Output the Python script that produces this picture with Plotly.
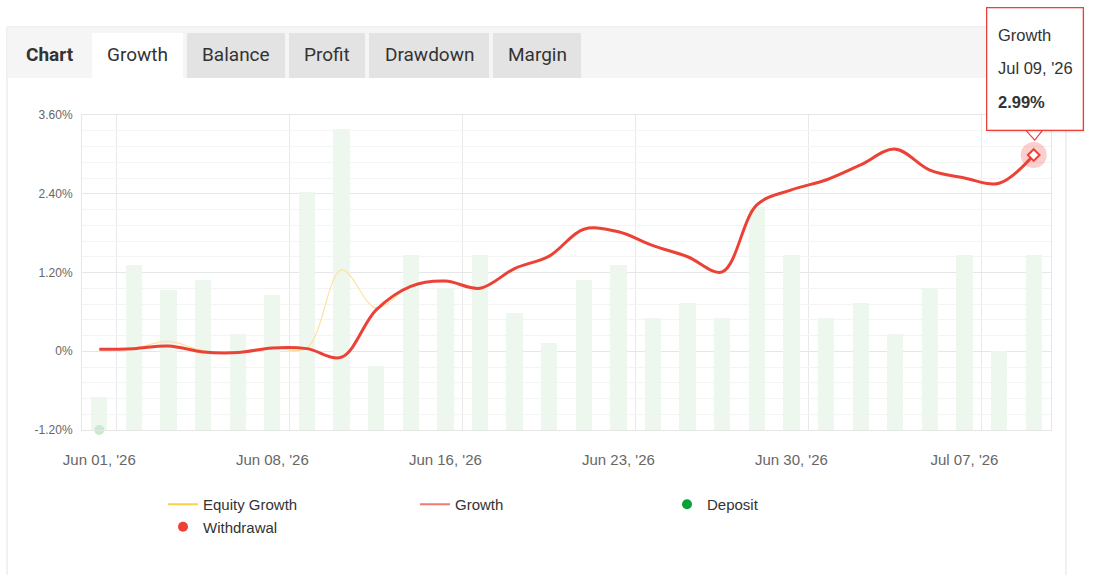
import plotly.graph_objects as go

# ---------------- data ----------------
dates = ["Jun 01, '26", "Jun 02, '26", "Jun 03, '26", "Jun 04, '26", "Jun 05, '26",
         "Jun 08, '26", "Jun 09, '26", "Jun 10, '26", "Jun 11, '26", "Jun 12, '26",
         "Jun 16, '26", "Jun 17, '26", "Jun 18, '26", "Jun 19, '26", "Jun 22, '26",
         "Jun 23, '26", "Jun 24, '26", "Jun 25, '26", "Jun 26, '26", "Jun 29, '26",
         "Jun 30, '26", "Jul 01, '26", "Jul 02, '26", "Jul 03, '26", "Jul 06, '26",
         "Jul 07, '26", "Jul 08, '26", "Jul 09, '26"]

growth = [0.03, 0.04, 0.08, -0.01, -0.02, 0.05, 0.04, -0.09, 0.63, 0.99,
          1.07, 0.96, 1.26, 1.45, 1.86, 1.82, 1.61, 1.44, 1.21, 2.23,
          2.46, 2.61, 2.84, 3.08, 2.76, 2.64, 2.56, 2.99]

equity_growth = [0.03, 0.05, 0.15, 0.01, -0.01, 0.05, 0.05, 1.24, 0.66, 0.99,
                 1.07, 0.96, 1.27, 1.46, 1.87, 1.83, 1.61, 1.44, 1.21, 2.23,
                 2.46, 2.61, 2.85, 3.10, 2.76, 2.64, 2.56, 2.99]

# faded daily bars (height above the chart floor, in axis units)
daily_bars = [0.51, 2.52, 2.13, 2.28, 1.46, 2.05, 3.62, 4.58, 0.98, 2.66,
              2.17, 2.66, 1.79, 1.32, 2.28, 2.52, 1.70, 1.94, 1.70, 3.40,
              2.66, 1.70, 1.94, 1.46, 2.17, 2.66, 1.21, 2.66]

deposit_idx = [0]
y_ticks = [-1.2, 0, 1.2, 2.4, 3.6]
y_tick_text = ["-1.20%", "0%", "1.20%", "2.40%", "3.60%"]
x_tick_idx = [0, 5, 10, 15, 20, 25]
tabs = ["Growth", "Balance", "Profit", "Drawdown", "Margin"]

Y_MIN, Y_MAX = -1.2, 3.6

# ---------------- layout geometry ----------------
W_PX, H_PX = 1098, 575
L, R, T, B = 82, 47, 115, 145
PW, PH = W_PX - L - R, H_PX - T - B


def px(x):
    return (x - L) / PW


def py(y):
    return 1 - (y - T) / PH


xs = list(range(len(dates)))
RED = "#ec4136"
GREEN_FADE = "#edf7ee"
FONT = "Liberation Sans, Arial, sans-serif"

fig = go.Figure()

fig.add_trace(go.Bar(x=xs, y=daily_bars, base=Y_MIN, width=0.47,
                     marker=dict(color=GREEN_FADE, line=dict(width=0)),
                     showlegend=False, hoverinfo="skip"))

fig.add_trace(go.Scatter(x=xs, y=equity_growth, mode="lines",
                         line=dict(color="#fbe3a0", width=1.2, shape="spline", smoothing=1.0),
                         showlegend=False, hoverinfo="skip"))

fig.add_trace(go.Scatter(x=xs, y=growth, mode="lines",
                         line=dict(color=RED, width=3, shape="spline", smoothing=1.0),
                         showlegend=False, hoverinfo="skip"))

fig.add_trace(go.Scatter(x=deposit_idx, y=[Y_MIN] * len(deposit_idx), mode="markers",
                         marker=dict(color="#c6ebcf", size=10),
                         cliponaxis=False, showlegend=False, hoverinfo="skip"))

# hovered point highlight
fig.add_trace(go.Scatter(x=[xs[-1]], y=[growth[-1]], mode="markers",
                         marker=dict(color="rgba(236,65,54,0.25)", size=26),
                         cliponaxis=False, showlegend=False, hoverinfo="skip"))
fig.add_trace(go.Scatter(x=[xs[-1]], y=[growth[-1]], mode="markers",
                         marker=dict(color="white", size=9, symbol="diamond",
                                     line=dict(color=RED, width=2)),
                         cliponaxis=False, showlegend=False, hoverinfo="skip"))

# legend-only entries
fig.add_trace(go.Scatter(x=[None], y=[None], mode="lines", name="Equity Growth",
                         line=dict(color="#f8d24e", width=2)))
fig.add_trace(go.Scatter(x=[None], y=[None], mode="lines", name="Growth",
                         line=dict(color="#f07a72", width=2)))
fig.add_trace(go.Scatter(x=[None], y=[None], mode="markers", name="Deposit",
                         marker=dict(color="#05a23a", size=10)))
fig.add_trace(go.Scatter(x=[None], y=[None], mode="markers", name="Withdrawal",
                         marker=dict(color="#ec4136", size=10)))

shapes = []
# card
shapes.append(dict(type="rect", xref="paper", yref="paper", layer="below",
                   x0=px(7), x1=px(1066), y0=py(600), y1=py(27),
                   fillcolor="white", line=dict(color="#e3e3e3", width=1)))
# header band
shapes.append(dict(type="rect", xref="paper", yref="paper", layer="below",
                   x0=px(7.5), x1=px(1065.5), y0=py(78), y1=py(27.5),
                   fillcolor="#f5f5f5", line=dict(width=0)))
tab_bounds = [(92, 183), (187, 285), (289, 365), (369, 489), (493, 581)]
annotations = []
annotations.append(dict(text="<b>Chart</b>", xref="paper", yref="paper",
                        x=px(50), y=py(54), xanchor="center", yanchor="middle",
                        showarrow=False,
                        font=dict(family="Roboto", size=19, color="#333")))
for i, (name, (a, b)) in enumerate(zip(tabs, tab_bounds)):
    shapes.append(dict(type="rect", xref="paper", yref="paper", layer="below",
                       x0=px(a), x1=px(b), y0=py(78), y1=py(33),
                       fillcolor="white" if i == 0 else "#e3e3e3", line=dict(width=0)))
    annotations.append(dict(text=name, xref="paper", yref="paper",
                            x=px((a + b) / 2), y=py(54), xanchor="center", yanchor="middle",
                            showarrow=False,
                            font=dict(family="Roboto", size=19, color="#333")))

# tooltip pointer
shapes.append(dict(type="path", xref="x", yref="y", layer="above",
                   xsizemode="pixel", ysizemode="pixel",
                   xanchor=xs[-1], yanchor=growth[-1],
                   path="M -8,25 L 1,15 L 9,25",
                   fillcolor="white", line=dict(color=RED, width=1.2)))

# tooltip box (shadow + box)
annotations.append(dict(x=xs[-1], y=growth[-1], xref="x", yref="y", text=" ",
                        showarrow=False, xanchor="center", yanchor="bottom",
                        xshift=3, yshift=22, width=95, height=121, borderpad=0,
                        bgcolor="rgba(0,0,0,0.10)", borderwidth=1,
                        bordercolor="rgba(0,0,0,0)"))
annotations.append(dict(x=xs[-1], y=growth[-1], xref="x", yref="y", text=" ",
                        showarrow=False, xanchor="center", yanchor="bottom",
                        xshift=1, yshift=24, width=95, height=121, borderpad=0,
                        bgcolor="white", borderwidth=1.3, bordercolor=RED))
for txt, dy in [("Growth", 120), (dates[-1], 87), ("<b>%.2f%%</b>" % growth[-1], 53)]:
    annotations.append(dict(x=xs[-1], y=growth[-1], xref="x", yref="y", text=txt,
                            showarrow=False, xanchor="left", yanchor="middle",
                            xshift=-38, yshift=dy,
                            font=dict(family=FONT, size=16.5, color="#333")))

fig.update_layout(
    width=W_PX, height=H_PX,
    margin=dict(l=L, r=R, t=T, b=B, pad=0),
    paper_bgcolor="white", plot_bgcolor="rgba(0,0,0,0)",
    font=dict(family=FONT, color="#666"),
    hovermode=False, bargap=0,
    shapes=shapes, annotations=annotations,
    legend=dict(orientation="h", x=px(163), xanchor="left", y=py(488), yanchor="top",
                entrywidth=207, entrywidthmode="pixels", traceorder="normal",
                font=dict(family=FONT, size=15, color="#333"),
                bgcolor="rgba(0,0,0,0)", borderwidth=0, itemclick=False),
    xaxis=dict(range=[-0.5, len(dates) - 0.5], tickmode="array", tickvals=x_tick_idx,
               ticktext=[dates[i] for i in x_tick_idx], showgrid=False, zeroline=False,
               ticks="", ticklabelstandoff=16, tickfont=dict(size=15, color="#666"),
               showline=True, mirror=True, linecolor="#e6e6e6", linewidth=1,
               minor=dict(tickmode="linear", tick0=0.5, dtick=5, showgrid=True,
                          gridcolor="#e9e9e9", gridwidth=1, ticks="")),
    yaxis=dict(range=[Y_MIN, Y_MAX], tickmode="array", tickvals=y_ticks, ticktext=y_tick_text,
               showgrid=True, gridcolor="#e6e6e6", gridwidth=1, zeroline=False,
               ticks="", ticklabelstandoff=6, tickfont=dict(size=12, color="#666"),
               showline=True, mirror=True, linecolor="#e6e6e6", linewidth=1,
               minor=dict(tickmode="linear", tick0=0, dtick=0.24, showgrid=True,
                          gridcolor="#f4f4f4", gridwidth=1, ticks="")),
)

fig.write_html("out.html")
